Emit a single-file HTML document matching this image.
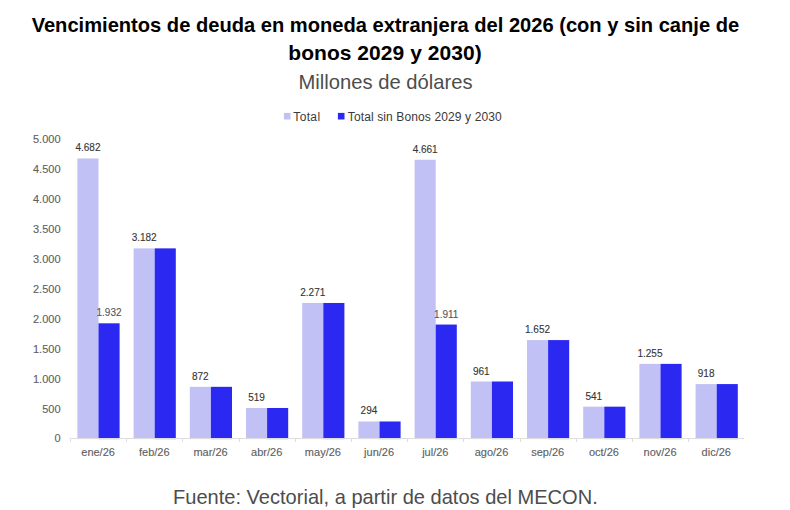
<!DOCTYPE html>
<html><head><meta charset="utf-8"><style>
html,body{margin:0;padding:0;background:#fff;}
body{width:790px;height:510px;position:relative;overflow:hidden;font-family:"Liberation Sans",sans-serif;}
.t{position:absolute;white-space:nowrap;line-height:1;}
svg{position:absolute;left:0;top:0;}
.yl{font-size:11px;fill:#606060;stroke:#606060;stroke-width:0.12px;}
.xl{font-size:11px;fill:#606060;stroke:#606060;stroke-width:0.12px;}
.dl{font-size:10px;fill:#333;stroke:#333;stroke-width:0.1px;}
.dl2{font-size:10px;fill:#555;stroke:#555;stroke-width:0.1px;}
.lg{font-size:12px;fill:#3a3a3a;}
</style></head><body>
<div class="t" id="title1" style="left:0;width:770px;text-align:center;top:13.5px;"><span style="display:inline-block;font-size:21px;font-weight:bold;color:#000;transform:scaleX(0.9577);">Vencimientos de deuda en moneda extranjera del 2026 (con y sin canje de</span></div>
<div class="t" id="title2" style="left:0;width:770px;text-align:center;top:42px;"><span style="display:inline-block;font-size:21px;font-weight:bold;color:#000;letter-spacing:0.05px;">bonos 2029 y 2030)</span></div>
<div class="t" id="sub" style="left:0;width:770px;text-align:center;top:70.5px;"><span style="display:inline-block;font-size:21px;color:#4d4d4d;transform:scaleX(0.962);">Millones de dólares</span></div>
<svg width="790" height="510" viewBox="0 0 790 510">
<rect x="283.9" y="112.9" width="6.6" height="6.6" fill="#c1c1f6"/>
<text x="293.3" y="121" class="lg" letter-spacing="0.35">Total</text>
<rect x="337.9" y="112.9" width="6.6" height="6.6" fill="#2b29f1"/>
<text x="347.8" y="121" class="lg" letter-spacing="0.12">Total sin Bonos 2029 y 2030</text>
<text x="60.5" y="442" text-anchor="end" class="yl">0</text>
<text x="60.5" y="413" text-anchor="end" class="yl">500</text>
<text x="60.5" y="383" text-anchor="end" class="yl">1.000</text>
<text x="60.5" y="353" text-anchor="end" class="yl">1.500</text>
<text x="60.5" y="323" text-anchor="end" class="yl">2.000</text>
<text x="60.5" y="293" text-anchor="end" class="yl">2.500</text>
<text x="60.5" y="263" text-anchor="end" class="yl">3.000</text>
<text x="60.5" y="233" text-anchor="end" class="yl">3.500</text>
<text x="60.5" y="203" text-anchor="end" class="yl">4.000</text>
<text x="60.5" y="173" text-anchor="end" class="yl">4.500</text>
<text x="60.5" y="143" text-anchor="end" class="yl">5.000</text>
<rect x="77.40" y="158.46" width="21.1" height="280.64" fill="#c1c1f6"/>
<rect x="98.50" y="323.30" width="21.1" height="115.80" fill="#2b29f1"/>
<text x="87.95" y="151.46" text-anchor="middle" class="dl">4.682</text>
<text x="109.05" y="316.30" text-anchor="middle" class="dl2">1.932</text>
<text x="98.10" y="455.7" text-anchor="middle" class="xl">ene/26</text>
<rect x="133.60" y="248.37" width="21.1" height="190.73" fill="#c1c1f6"/>
<rect x="154.70" y="248.37" width="21.1" height="190.73" fill="#2b29f1"/>
<text x="144.15" y="241.37" text-anchor="middle" class="dl">3.182</text>
<text x="154.30" y="455.7" text-anchor="middle" class="xl">feb/26</text>
<rect x="189.80" y="386.83" width="21.1" height="52.27" fill="#c1c1f6"/>
<rect x="210.90" y="386.83" width="21.1" height="52.27" fill="#2b29f1"/>
<text x="200.35" y="379.83" text-anchor="middle" class="dl">872</text>
<text x="210.50" y="455.7" text-anchor="middle" class="xl">mar/26</text>
<rect x="246.00" y="407.99" width="21.1" height="31.11" fill="#c1c1f6"/>
<rect x="267.10" y="407.99" width="21.1" height="31.11" fill="#2b29f1"/>
<text x="256.55" y="400.99" text-anchor="middle" class="dl">519</text>
<text x="266.70" y="455.7" text-anchor="middle" class="xl">abr/26</text>
<rect x="302.20" y="302.98" width="21.1" height="136.12" fill="#c1c1f6"/>
<rect x="323.30" y="302.98" width="21.1" height="136.12" fill="#2b29f1"/>
<text x="312.75" y="295.98" text-anchor="middle" class="dl">2.271</text>
<text x="322.90" y="455.7" text-anchor="middle" class="xl">may/26</text>
<rect x="358.40" y="421.48" width="21.1" height="17.62" fill="#c1c1f6"/>
<rect x="379.50" y="421.48" width="21.1" height="17.62" fill="#2b29f1"/>
<text x="368.95" y="414.48" text-anchor="middle" class="dl">294</text>
<text x="379.10" y="455.7" text-anchor="middle" class="xl">jun/26</text>
<rect x="414.60" y="159.72" width="21.1" height="279.38" fill="#c1c1f6"/>
<rect x="435.70" y="324.55" width="21.1" height="114.55" fill="#2b29f1"/>
<text x="425.15" y="152.72" text-anchor="middle" class="dl">4.661</text>
<text x="446.25" y="317.55" text-anchor="middle" class="dl2">1.911</text>
<text x="435.30" y="455.7" text-anchor="middle" class="xl">jul/26</text>
<rect x="470.80" y="381.50" width="21.1" height="57.60" fill="#c1c1f6"/>
<rect x="491.90" y="381.50" width="21.1" height="57.60" fill="#2b29f1"/>
<text x="481.35" y="374.50" text-anchor="middle" class="dl">961</text>
<text x="491.50" y="455.7" text-anchor="middle" class="xl">ago/26</text>
<rect x="527.00" y="340.08" width="21.1" height="99.02" fill="#c1c1f6"/>
<rect x="548.10" y="340.08" width="21.1" height="99.02" fill="#2b29f1"/>
<text x="537.55" y="333.08" text-anchor="middle" class="dl">1.652</text>
<text x="547.70" y="455.7" text-anchor="middle" class="xl">sep/26</text>
<rect x="583.20" y="406.67" width="21.1" height="32.43" fill="#c1c1f6"/>
<rect x="604.30" y="406.67" width="21.1" height="32.43" fill="#2b29f1"/>
<text x="593.75" y="399.67" text-anchor="middle" class="dl">541</text>
<text x="603.90" y="455.7" text-anchor="middle" class="xl">oct/26</text>
<rect x="639.40" y="363.88" width="21.1" height="75.22" fill="#c1c1f6"/>
<rect x="660.50" y="363.88" width="21.1" height="75.22" fill="#2b29f1"/>
<text x="649.95" y="356.88" text-anchor="middle" class="dl">1.255</text>
<text x="660.10" y="455.7" text-anchor="middle" class="xl">nov/26</text>
<rect x="695.60" y="384.08" width="21.1" height="55.02" fill="#c1c1f6"/>
<rect x="716.70" y="384.08" width="21.1" height="55.02" fill="#2b29f1"/>
<text x="706.15" y="377.08" text-anchor="middle" class="dl">918</text>
<text x="716.30" y="455.7" text-anchor="middle" class="xl">dic/26</text>
<rect x="70" y="438" width="674" height="1" fill="#dedede"/>
<rect x="70" y="438" width="1" height="4" fill="#dedede"/>
<rect x="126" y="438" width="1" height="4" fill="#dedede"/>
<rect x="182" y="438" width="1" height="4" fill="#dedede"/>
<rect x="239" y="438" width="1" height="4" fill="#dedede"/>
<rect x="295" y="438" width="1" height="4" fill="#dedede"/>
<rect x="351" y="438" width="1" height="4" fill="#dedede"/>
<rect x="407" y="438" width="1" height="4" fill="#dedede"/>
<rect x="463" y="438" width="1" height="4" fill="#dedede"/>
<rect x="520" y="438" width="1" height="4" fill="#dedede"/>
<rect x="576" y="438" width="1" height="4" fill="#dedede"/>
<rect x="632" y="438" width="1" height="4" fill="#dedede"/>
<rect x="688" y="438" width="1" height="4" fill="#dedede"/>
</svg>
<div class="t" id="foot" style="left:0;width:770px;text-align:center;top:485.5px;"><span style="display:inline-block;font-size:21px;color:#4d4d4d;transform:scaleX(0.955);">Fuente: Vectorial, a partir de datos del MECON.</span></div>
</body></html>
